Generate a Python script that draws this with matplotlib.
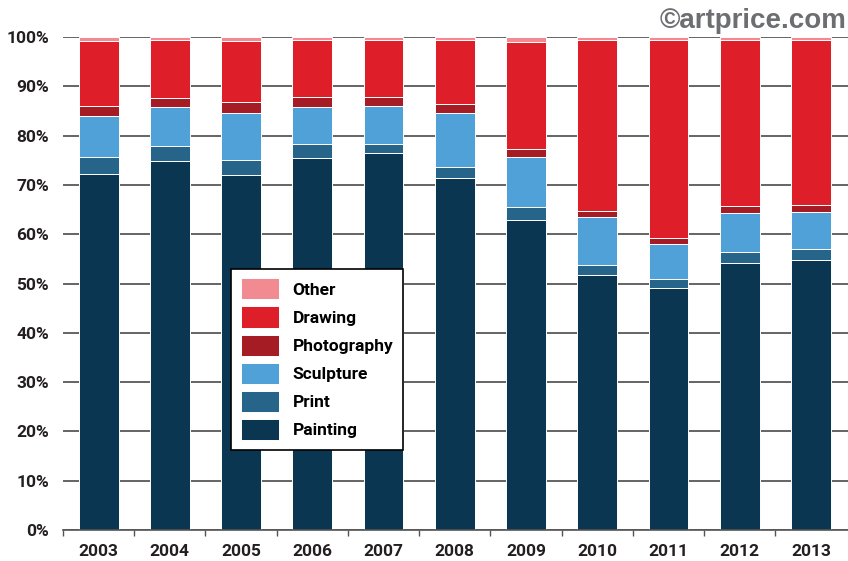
import numpy as np
import matplotlib.pyplot as plt

years = ["2003", "2004", "2005", "2006", "2007", "2008", "2009", "2010", "2011", "2012", "2013"]

painting = [72.3, 74.8, 72.1, 75.5, 76.5, 71.5, 62.9, 51.7, 49.1, 54.2, 54.8]
print_ = [3.4, 3.1, 3.0, 2.7, 1.7, 2.2, 2.7, 2.1, 1.9, 2.2, 2.2]
sculpture = [8.3, 7.8, 9.5, 7.6, 7.8, 10.9, 10.1, 9.6, 7.0, 7.8, 7.5]
photography = [2.1, 2.0, 2.3, 2.1, 1.9, 1.9, 1.5, 1.4, 1.2, 1.5, 1.4]
drawing = [13.1, 11.6, 12.2, 11.4, 11.4, 12.8, 21.8, 34.6, 40.1, 33.6, 33.4]
other = [0.8, 0.7, 0.9, 0.7, 0.7, 0.7, 1.0, 0.6, 0.7, 0.7, 0.7]

series = [
    ("Painting", painting, "#0a3651"),
    ("Print", print_, "#27648a"),
    ("Sculpture", sculpture, "#50a1d8"),
    ("Photography", photography, "#a51c24"),
    ("Drawing", drawing, "#de1f29"),
    ("Other", other, "#f28a92"),
]

plt.rcParams["font.family"] = ["Roboto", "DejaVu Sans"]
plt.rcParams["font.weight"] = "bold"

fig = plt.figure(figsize=(8.48, 5.61), dpi=100)
ax = fig.add_axes([63 / 848, 31 / 561, 785 / 848, 493 / 561])

x = np.arange(len(years))
bottom = np.zeros(len(years))
for name, vals, col in series:
    vals = np.array(vals)
    ax.bar(x, vals, 0.56, bottom=bottom, color=col, edgecolor="white",
           linewidth=0.7, label=name, zorder=3)
    bottom += vals

ax.set_xlim(-0.48, 10.52)
ax.set_ylim(0, 100)
ax.set_yticks(np.arange(0, 101, 10))
ax.set_yticklabels([f"{v}%" for v in range(0, 101, 10)], fontsize=12.5, color="#231f20")
ax.yaxis.grid(True, color="#3a3a3a", linewidth=1.1, zorder=0)
ax.tick_params(axis="y", length=0, pad=10)

ax.set_xticks(x)
ax.set_xticklabels(years, fontsize=12.5, color="#231f20")
ax.set_xticks(np.arange(-0.5, 10.5, 1), minor=True)
ax.tick_params(axis="x", which="major", length=0, pad=10)
ax.tick_params(axis="x", which="minor", length=4, width=1, color="#555555")

for s in ["top", "right", "left"]:
    ax.spines[s].set_visible(False)
ax.spines["bottom"].set_color("#555555")
ax.spines["bottom"].set_linewidth(1.2)
ax.spines["bottom"].set_zorder(4)

h, l = ax.get_legend_handles_labels()
leg = ax.legend(h[::-1], l[::-1], loc="upper left", bbox_to_anchor=(0.214, 0.53),
                fontsize=12.5, frameon=True, fancybox=False, edgecolor="black",
                framealpha=1, handlelength=2.2, handleheight=1.5, labelspacing=0.4,
                borderpad=0.55, handletextpad=0.8, borderaxespad=0)
leg.get_frame().set_linewidth(1.2)
leg.set_zorder(5)

fig.text(0.998, 0.962, "\u00a9artprice.com", ha="right", va="center",
         fontsize=20, color="#6d6e71", fontweight="bold", family=["Liberation Sans", "DejaVu Sans"])

fig.savefig("out.png", dpi=100)
